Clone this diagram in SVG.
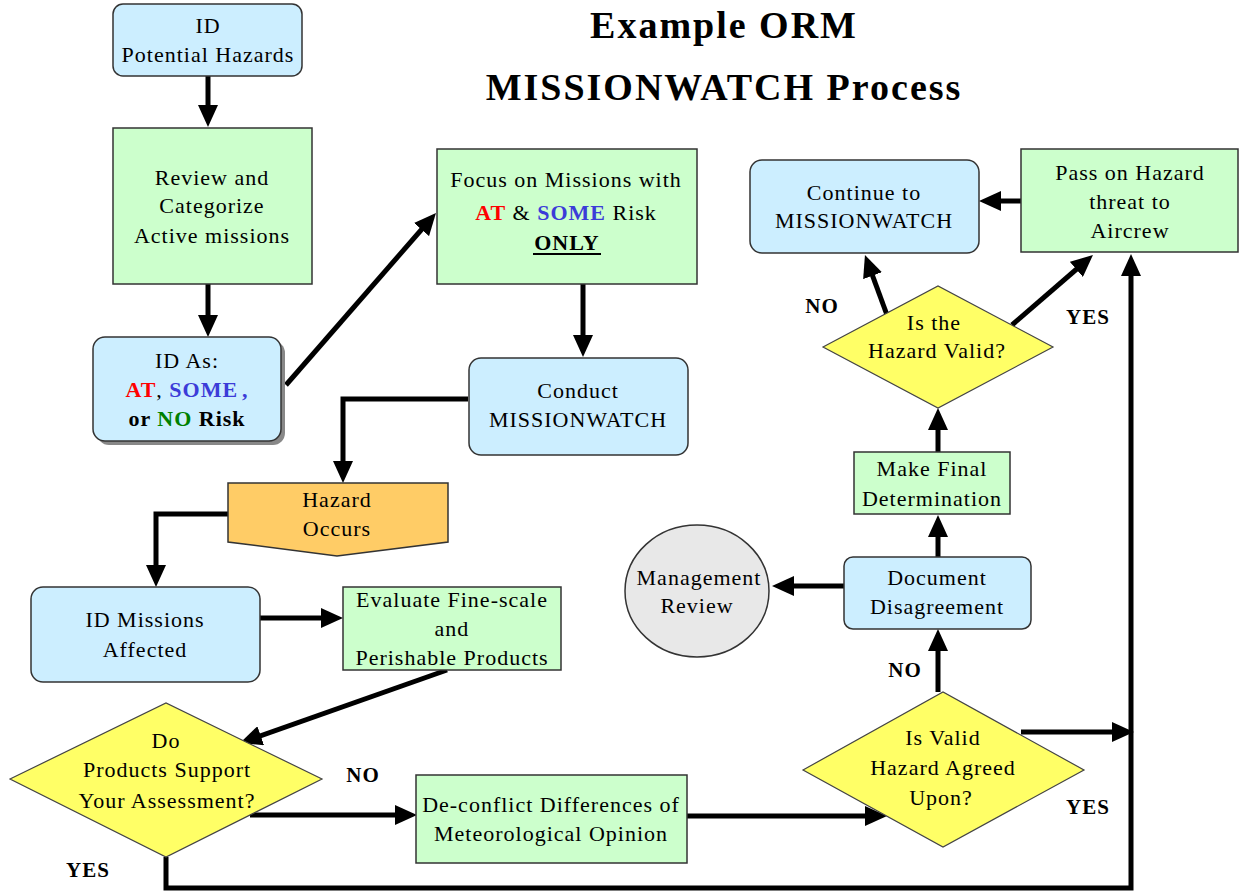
<svg xmlns="http://www.w3.org/2000/svg" width="1241" height="892" viewBox="0 0 1241 892">
<defs>
<marker id="ah" markerUnits="userSpaceOnUse" markerWidth="22" markerHeight="20" refX="12" refY="10" orient="auto" viewBox="0 0 22 20">
<path d="M0,0 L22,10 L0,20 Z" fill="#000"/>
</marker>
<style>
text{font-family:"Liberation Serif","Times New Roman",serif;font-size:22px;letter-spacing:1px;fill:#000;text-anchor:middle}
.title{font-size:38px;font-weight:bold;letter-spacing:2px}
.lbl{font-size:21px;font-weight:bold}
.b{font-weight:bold}
.blue{fill:#cceeff;stroke:#333;stroke-width:1.5}
.green{fill:#ccffcc;stroke:#333;stroke-width:1.5}
.yellow{fill:#ffff66;stroke:#444;stroke-width:1.2}
.orange{fill:#ffcc66;stroke:#333;stroke-width:1.5}
.gray{fill:#e8e8e8;stroke:#333;stroke-width:1.5}
.c{fill:none;stroke:#000;stroke-width:5;marker-end:url(#ah)}
.cn{fill:none;stroke:#000;stroke-width:5}
.red{fill:#ff0000;font-weight:bold}
.sb{fill:#3c3cd8;font-weight:bold}
.gn{fill:#008000;font-weight:bold}
</style>
</defs>
<rect width="1241" height="892" fill="#fff"/>
<g id="title">
<text class="title" x="724" y="38">Example ORM</text>
<text class="title" x="724" y="100">MISSIONWATCH Process</text>
</g>
<g id="connectors">
<path class="c" d="M208,76 V117"/>
<path class="c" d="M208,284 V327"/>
<path class="c" d="M286,385 L429.4,220.5"/>
<path class="c" d="M583,284 V347"/>
<path class="c" d="M468,399 H343 V473"/>
<path class="c" d="M228,514 H156 V577"/>
<path class="c" d="M260,618 H333"/>
<path class="c" d="M447,670 L249.4,739.7"/>
<path class="c" d="M250,815 H407"/>
<path class="c" d="M687,816 H877"/>
<path class="c" d="M1021,732 H1124"/>
<path class="c" d="M938,692 V639"/>
<path class="c" d="M844,586 H782"/>
<path class="c" d="M938,557 V525"/>
<path class="c" d="M938,452 V418"/>
<path class="c" d="M887,315 L868.4,264.4"/>
<path class="c" d="M1012,325 L1085.4,261.5"/>
<path class="c" d="M1021,201 H989"/>
<path class="c" d="M166,857 V888 H1131 V264"/>
</g>
<g id="labels">
<text class="lbl" x="363" y="782">NO</text>
<text class="lbl" x="88" y="877">YES</text>
<text class="lbl" x="822" y="313">NO</text>
<text class="lbl" x="1088" y="324">YES</text>
<text class="lbl" x="905" y="677">NO</text>
<text class="lbl" x="1088" y="814">YES</text>
</g>
<g id="n-id-potential">
<rect class="blue" x="113" y="4" width="189" height="72" rx="10"/>
<text x="208" y="33">ID</text>
<text x="208" y="62">Potential Hazards</text>
</g>
<g id="n-review">
<rect class="green" x="113" y="128" width="199" height="156"/>
<text x="212" y="185">Review and</text>
<text x="212" y="213">Categorize</text>
<text x="212" y="243">Active missions</text>
</g>
<g id="n-id-as">
<rect x="97" y="341" width="188" height="104" rx="12" fill="#888"/>
<rect class="blue" x="93" y="337" width="188" height="104" rx="12"/>
<text x="187" y="368">ID As:</text>
<text x="187" y="397"><tspan class="red">AT</tspan>, <tspan class="sb">SOME</tspan><tspan class="sb" dx="4">,</tspan></text>
<text x="187" y="426" class="b">or <tspan class="gn">NO</tspan> Risk</text>
</g>
<g id="n-focus">
<rect class="green" x="437" y="149" width="260" height="135"/>
<text x="566" y="187">Focus on Missions with</text>
<text x="566" y="220"><tspan class="red">AT</tspan> &amp; <tspan class="sb">SOME</tspan> Risk</text>
<text x="567" y="250" class="b">ONLY</text>
<line x1="533" y1="254" x2="601" y2="254" stroke="#000" stroke-width="2"/>
</g>
<g id="n-conduct">
<rect class="blue" x="469" y="358" width="219" height="97" rx="12"/>
<text x="578" y="398">Conduct</text>
<text x="578" y="427">MISSIONWATCH</text>
</g>
<g id="n-hazard">
<path class="orange" d="M228,483 H448 V542 L337,556 L228,542 Z"/>
<text x="337" y="507">Hazard</text>
<text x="337" y="536">Occurs</text>
</g>
<g id="n-id-missions">
<rect class="blue" x="31" y="587" width="229" height="95" rx="12"/>
<text x="145" y="627">ID Missions</text>
<text x="145" y="657">Affected</text>
</g>
<g id="n-evaluate">
<rect class="green" x="343" y="587" width="218" height="83"/>
<text x="452" y="607">Evaluate Fine-scale</text>
<text x="452" y="636">and</text>
<text x="452" y="665">Perishable Products</text>
</g>
<g id="n-do-products">
<path class="yellow" d="M10,779 L166,703 L322,779 L166,857 Z"/>
<text x="166" y="748">Do</text>
<text x="167" y="777">Products Support</text>
<text x="167" y="808">Your Assessment?</text>
</g>
<g id="n-deconflict">
<rect class="green" x="416" y="775" width="271" height="88"/>
<text x="551" y="812">De-conflict Differences of</text>
<text x="551" y="841">Meteorological Opinion</text>
</g>
<g id="n-is-valid-agreed">
<path class="yellow" d="M803,770 L943,692 L1084,770 L943,847 Z"/>
<text x="943" y="745">Is Valid</text>
<text x="943" y="775">Hazard Agreed</text>
<text x="941" y="805">Upon?</text>
</g>
<g id="n-document">
<rect class="blue" x="844" y="557" width="187" height="72" rx="9"/>
<text x="937" y="585">Document</text>
<text x="937" y="614">Disagreement</text>
</g>
<g id="n-management">
<ellipse class="gray" cx="697" cy="591" rx="72" ry="66"/>
<text x="699" y="585">Management</text>
<text x="697" y="613">Review</text>
</g>
<g id="n-make-final">
<rect class="green" x="854" y="452" width="156" height="62"/>
<text x="932" y="476">Make Final</text>
<text x="932" y="506">Determination</text>
</g>
<g id="n-is-hazard-valid">
<path class="yellow" d="M823,347 L938,286 L1053,347 L938,408 Z"/>
<text x="934" y="330">Is the</text>
<text x="937" y="358">Hazard Valid?</text>
</g>
<g id="n-continue">
<rect class="blue" x="750" y="160" width="229" height="93" rx="12"/>
<text x="864" y="200">Continue to</text>
<text x="864" y="228">MISSIONWATCH</text>
</g>
<g id="n-pass-on">
<rect class="green" x="1021" y="149" width="217" height="103"/>
<text x="1130" y="180">Pass on Hazard</text>
<text x="1130" y="209">threat to</text>
<text x="1130" y="238">Aircrew</text>
</g>
</svg>
